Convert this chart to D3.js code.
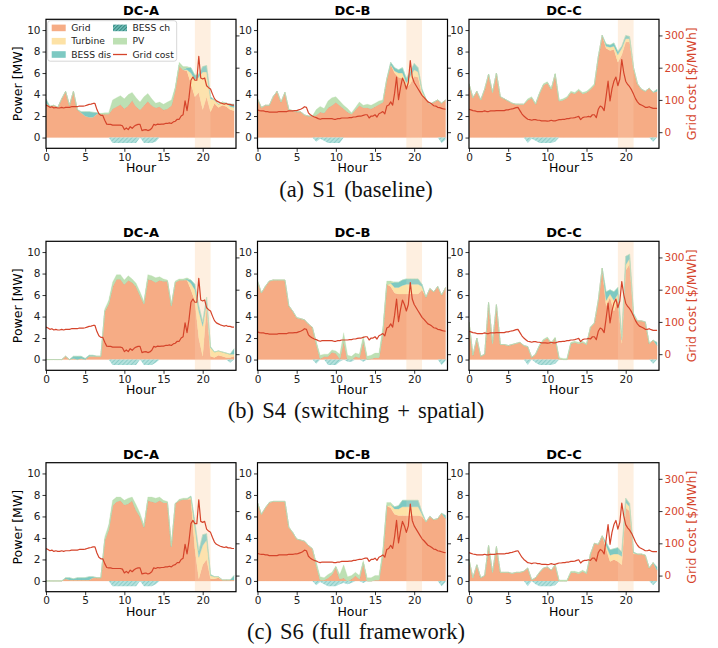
<!DOCTYPE html>
<html><head><meta charset="utf-8">
<script src="https://cdn.jsdelivr.net/npm/d3@7"></script>
<style>body{margin:0;background:#fff}svg{display:block}</style>
</head><body><svg id="c" width="718" height="648"></svg>
<script>
// ---------- DATA ----------
const hours = [0,0.5,1,1.5,2,2.5,3,3.5,4,4.5,5,5.5,6,6.5,7,7.5,8,8.5,9,9.5,10,10.5,11,11.5,12,12.5,13,13.5,14,14.5,15,15.5,16,16.5,17,17.5,18,18.5,19,19.5,20,20.5,21,21.5,22,22.5,23,23.5,24];
const costHours = [0,0.25,0.5,0.75,1,1.25,1.5,1.75,2,2.25,2.5,2.75,3,3.25,3.5,3.75,4,4.25,4.5,4.75,5,5.25,5.5,5.75,6,6.25,6.5,6.75,7,7.25,7.5,7.75,8,8.25,8.5,8.75,9,9.25,9.5,9.75,10,10.25,10.5,10.75,11,11.25,11.5,11.75,12,12.25,12.5,12.75,13,13.25,13.5,13.75,14,14.25,14.5,14.75,15,15.25,15.5,15.75,16,16.25,16.5,16.75,17,17.25,17.5,17.75,18,18.25,18.5,18.75,19,19.25,19.5,19.75,20,20.25,20.5,20.75,21,21.25,21.5,21.75,22,22.25,22.5,22.75,23,23.25,23.5,23.75,24];

const dcNames = ["DC-A","DC-B","DC-C"];
const captions = ["(a) S1 (baseline)","(b) S4 (switching + spatial)","(c) S6 (full framework)"];
const seriesNames = ["Grid","Turbine","BESS dis","BESS ch","PV","Grid cost"];
const xTicks = [0,5,10,15,20];
const yTicks = [0,2,4,6,8,10];
const costTicks = [0,100,200,300];
const peakWindow = [19,21];

// Grid cost [$/MWh], quarter-hourly
const costA = [84,81,77,79,75,77,75,75,77,75,77,77,77,79,79,79,
79,81,81,81,82,84,86,87,89,89,70,57,52,52,37,25,
24,24,22,22,22,22,22,20,8,13,8,17,12,18,22,24,
24,5,7,8,5,7,12,24,22,25,24,25,25,27,27,29,
27,32,34,40,40,50,54,97,67,107,161,171,161,161,235,168,
165,168,144,138,134,118,104,97,94,91,89,87,89,86,86,84,
84];
const costB = [69,67,66,66,64,64,62,62,62,62,62,64,64,64,64,64,
66,66,66,67,67,69,71,74,79,77,60,54,50,47,45,42,
40,42,42,42,42,42,42,40,40,42,42,44,44,44,44,45,
45,47,47,49,50,50,52,54,54,44,50,50,54,47,57,60,
64,57,81,84,94,84,121,171,101,138,168,154,134,154,222,171,
154,144,134,124,114,108,101,94,91,87,82,81,77,76,74,72,
71];
const costC = [71,69,67,66,64,64,64,64,66,64,64,66,66,66,67,67,
67,67,67,69,69,71,72,74,76,77,67,57,50,45,40,39,
37,39,39,37,37,35,35,35,34,35,37,35,35,37,39,39,
40,40,42,42,44,44,45,47,49,39,45,47,47,49,47,54,
54,45,71,81,77,67,111,158,97,134,158,171,144,165,225,185,
158,148,141,131,118,104,94,87,84,81,77,77,79,76,74,74,
74];

// Power [MW], half-hourly. S1
const gridS1A = [3.2,2.9,3.0,2.8,3.6,4.3,3.0,4.3, 2.6,2.3,2.0,1.9,1.9,2.2,2.2,2.2, 2.2,2.7,2.9,3.1,2.7,3.0,3.5,2.9, 2.6,3.0,3.4,3.0,2.8,2.9,2.6,2.7, 3.0,4.5,6.7,6.3,6.2,5.0,3.8,4.2, 2.6,3.8,2.4,3.2,2.8,3.0,2.9,2.6, 2.5];
const turbS1A = [0,0,0,0,0,0,0,0, 0,0,0,0,0,0,0,0, 0,0,0,0,0,0,0,0, 0,0,0,0,0,0,0,0, 0,0,0,0,0.1,1.0,1.6,1.4, 3.5,2.3,1.2,0.3,0.3,0.3,0.3,0.3, 0.3];
const disS1A  = [0.4,0,0,0,0,0,0,0, 0,0.1,0.4,0.5,0.45,0.1,0,0, 0,0,0,0,0,0,0,0, 0,0,0,0,0,0,0,0, 0,0,0,0,0.2,0.5,0.4,0.3, 0.5,0.6,0.2,0,0,0,0,0.2, 0.3];
const pvS1A   = [0,0,0,0,0,0,0,0, 0,0,0,0,0,0,0.05,0.1, 0.1,0.8,0.8,0.8,0.9,1.0,0.7,0.8, 0.7,0.8,0.7,0.6,0.4,0.4,0.5,0.6, 0.5,0.2,0.3,0.3,0.1,0,0,0, 0,0,0,0,0,0,0,0, 0];
const chS1A   = [0,0,0,0,0,0,0,0, 0,0,0,0,0,0,0,0, 0,-0.5,-0.5,-0.5,-0.5,-0.5,-0.5,-0.5, 0,-0.5,-0.5,-0.5,-0.4,0,0,0, 0,0,0,0,0,0,0,0, 0,0,0,0,0,0,0,0, 0];

const gridS1B = [3.6,2.8,3.0,3.0,3.8,4.3,3.3,4.2, 2.6,2.5,2.4,2.4,2.1,2.0,2.0,2.1, 2.4,2.3,2.8,3.0,3.3,3.0,2.7,2.4, 2.2,2.6,3.0,2.8,2.8,2.7,2.9,3.1, 3.3,5.4,6.8,6.0,5.6,5.5,4.6,5.0, 5.7,5.6,4.0,3.5,3.1,3.3,3.5,3.2, 3.5];
const turbS1B = [0,0,0,0,0,0,0,0, 0,0,0,0,0,0,0,0, 0,0,0,0,0,0,0,0, 0,0,0,0,0,0,0,0, 0,0,0,0.2,0.4,0.5,0.5,0.7, 0.6,0.5,0.3,0.1,0,0,0,0, 0];
const disS1B  = [0,0,0,0,0,0,0,0, 0,0,0,0,0,0,0,0, 0,0,0,0,0,0,0,0, 0,0,0,0,0,0,0,0, 0,0,0.2,0.3,0.3,0.5,0.4,0.5, 0.6,0.4,0.2,0,0,0,0,0, 0];
const pvS1B   = [0,0,0,0,0,0,0,0, 0,0,0,0,0,0,0,0.5, 0.5,0.4,0.6,0.7,0.5,0.4,0.3,0.3, 0.1,0.2,0.3,0.2,0.3,0.3,0.3,0.3, 0.2,0.1,0,0,0,0,0,0, 0,0,0,0,0,0,0,0, 0];
const chS1B   = [0,0,0,0,0,0,0,0, 0,0,0,0,0,0,0,-0.4, -0.1,-0.3,-0.5,-0.5,-0.5,-0.5,0,0, 0,0,0,0,0,0,0,0, 0,0,0,0,0,0,0,0, 0,0,0,0,0,0,0,-0.5, -0.2];

const gridS1C = [5.0,3.7,4.3,3.5,4.5,5.9,4.2,6.0, 3.8,3.6,3.4,3.2,3.1,3.1,3.1,3.5, 3.7,3.1,4.1,4.9,5.1,4.5,5.9,3.4, 3.5,3.7,4.2,4.1,4.4,4.1,4.2,4.5, 4.9,7.5,9.5,8.3,8.1,8.2,7.0,7.7, 8.9,8.9,6.4,5.0,4.5,4.3,4.6,4.2, 4.3];
const turbS1C = [0,0,0,0,0,0,0,0, 0,0,0,0,0,0,0,0, 0,0,0,0,0,0,0,0, 0,0,0,0,0,0,0,0, 0,0,0,0.2,0.3,0.3,0.7,0.6, 0.3,0.3,0.1,0,0,0,0,0, 0];
const disS1C  = [0,0,0,0,0,0,0,0, 0,0,0,0,0,0,0,0, 0,0,0,0,0,0,0,0, 0,0,0,0,0,0,0,0, 0,0,0,0.2,0.2,0.3,0.3,0.2, 0.3,0.2,0,0,0,0,0,0, 0.2];
const pvS1C   = [0,0,0,0,0,0,0,0, 0,0,0,0,0,0,0,0.1, 0.1,0.1,0.1,0.1,0.1,0.1,0.1,0.1, 0.1,0.1,0.1,0.1,0.1,0.1,0.1,0.1, 0.1,0,0,0,0,0,0,0, 0,0,0,0,0,0,0,0, 0];
const chS1C   = [0,0,0,0,0,0,0,0, 0,0,0,0,0,0,0,-0.5, -0.1,-0.3,-0.5,-0.5,-0.5,-0.5,-0.4,0, 0,0,0,0,0,0,0,0, 0,0,0,0,0,0,0,0, 0,0,0,0,0,0,0,-0.4, 0];

// S4
const gridS4A = [0,0,0,0,0,0.3,0,0.1, 0,0.1,0,0.3,0.3,0.3,0.3,4.5, 5.2,6.8,7.5,7.5,7.0,7.4,7.2,6.8, 6.0,5.2,7.5,7.4,7.2,7.4,7.3,7.3, 5.0,7.2,7.4,7.4,7.4,6.5,5.5,2.0, 0.3,5.0,0.3,0.2,0.4,0.3,0.2,0.2, 0.3];
const turbS4A = [0,0,0,0,0,0,0,0, 0,0,0,0,0,0,0,0, 0,0,0,0,0,0,0,0, 0,0,0,0,0,0,0,0, 0,0,0,0,0,0.6,1.0,2.5, 2.8,0.3,0.8,0.5,0.4,0.4,0.4,0.3, 0.2];
const disS4A  = [0,0,0,0,0,0,0,0.2, 0.3,0.2,0.1,0.1,0.1,0,0,0, 0,0,0,0,0,0,0,0, 0,0,0,0,0,0,0,0, 0,0,0,0,0.1,0.3,0.5,0.5, 0.4,0.5,0.1,0,0,0,0,0, 0.5];
const pvS4A   = [0,0,0,0,0,0,0,0, 0,0,0,0,0,0,0,0.2, 0.3,0.4,0.4,0.4,0.4,0.4,0.3,0.3, 0.3,0.2,0.4,0.4,0.4,0.3,0.2,0.1, 0.1,0.1,0.1,0.1,0.1,0,0,0, 0,0,0,0,0,0,0,0, 0];
const chS4A   = [0,0,0,0,0,0,0,0, 0,0,0,0,0,0,0,0, 0,-0.5,-0.5,-0.5,-0.5,-0.5,-0.5,-0.5, 0,-0.5,-0.5,-0.5,-0.3,0,0,0, 0,0,0,0,0,0,0,0, 0,0,0,0,0,0,0,-0.3, 0];

const gridS4B = [7.3,6.2,6.8,7.3,7.4,7.4,7.4,7.4, 5.0,4.5,3.9,3.8,3.7,3.3,3.0,1.5, 0.1,0.3,0.3,0.7,0.6,0.1,1.8,0, 0,0.3,0.2,1.8,0,0.1,0.2,0.2, 2.5,7.0,6.8,6.2,6.1,6.1,6.1,6.1, 6.1,6.1,6.5,5.8,6.6,6.3,6.8,6.0, 6.7];
const turbS4B = [0,0,0,0,0,0,0,0, 0,0,0,0,0,0,0,0, 0,0,0,0,0,0,0,0, 0,0,0,0,0,0,0,0, 0,0,0.3,0.5,0.6,0.8,0.9,0.9, 0.9,0.9,0.3,0,0,0,0,0, 0];
const disS4B  = [0,0,0,0,0,0,0,0, 0,0,0,0,0,0,0,0, 0,0,0,0,0,0,0,0, 0,0,0,0,0,0,0,0, 0,0,0,0.5,0.5,0.5,0.5,0.5, 0.5,0.5,0.2,0,0,0,0,0, 0];
const pvS4B   = [0,0,0,0,0,0,0,0, 0,0,0,0,0,0,0,0.2, 0.3,0.2,0.2,0.2,0.2,0.4,0.7,0.4, 0.3,0.3,0.3,0.4,0.3,0.3,0.4,0.4, 0.5,0.3,0.2,0,0,0,0,0, 0,0,0,0,0,0,0,0, 0];
const chS4B   = [0,0,0,0,0,0,0,0, 0,0,0,0,0,0,0,-0.4, 0,0,-0.5,-0.5,-0.5,-0.2,0,-0.2, -0.2,0,0,-0.2,0,0,0,0, 0,0,0,0,0,0,0,0, 0,0,0,0,0,0,0,-0.5, -0.1];

const gridS4C = [3.5,0.4,2.0,0.3,0.5,5.3,1.5,5.1, 1.4,1.4,1.3,1.4,1.5,1.6,1.3,1.2, 0.2,0.5,1.3,1.8,2.0,1.5,2.0,0.1, 0,0,1.5,1.6,1.5,1.6,1.4,3.0, 3.4,5.5,8.5,5.0,5.8,4.5,5.6,1.5, 8.3,8.9,4.0,3.6,3.6,3.5,1.5,1.8, 1.3];
const turbS4C = [0,0,0,0,0,0,0,0, 0,0,0,0,0,0,0,0, 0,0,0,0,0,0,0,0, 0,0,0,0,0,0,0,0, 0,0,0,0.5,0.3,1.0,0.5,0.3, 0.5,0.5,0.2,0,0,0,0,0, 0];
const disS4C  = [0,0,0,0,0,0,0,0, 0,0,0,0,0,0,0,0, 0,0,0,0,0,0,0,0, 0,0,0,0,0,0,0,0, 0,0,0,0.8,0.4,0.8,0.6,0.3, 0.8,0.4,0.1,0,0,0,0,0, 0.3];
const pvS4C   = [0,0,0,0,0,0,0,0, 0,0,0,0,0,0,0,0, 0,0,0.1,0.1,0.1,0.1,0.1,0.1, 0.1,0.1,0.1,0.1,0.1,0.1,0.1,0, 0,0,0,0,0,0,0,0, 0,0,0,0,0,0,0,0, 0];
const chS4C   = [0,0,0,0,0,0,0,0, 0,0,0,0,0,0,0,-0.5, 0,-0.3,-0.5,-0.5,-0.5,-0.5,-0.4,0, 0,0,0,0,0,0,0,0, 0,0,0,0,0,0,0,0, 0,0,0,0,0,0,0,-0.4, 0];

// S6
const gridS6A = [0,0,0,0,0,0.2,0.1,0.1, 0.1,0.1,0.1,0.1,0.3,0.3,0.3,3.8, 4.8,7.0,7.4,7.5,7.1,7.2,7.5,6.6, 6.0,5.0,7.5,7.4,7.3,7.5,7.3,7.3, 3.2,7.2,7.5,7.6,7.6,7.6,3.0,0.2, 1.5,2.0,0.2,0.2,0.3,0.1,0.1,0.1, 0.1];
const turbS6A = [0,0,0,0,0,0,0,0, 0,0,0,0,0,0,0,0, 0,0,0,0,0,0,0,0, 0,0,0,0,0,0,0,0, 0,0,0,0,0,0.2,2.0,2.0, 1.8,1.8,0.3,0.2,0.1,0,0,0, 0];
const disS6A  = [0,0,0,0,0,0.1,0.2,0.1, 0.2,0.2,0.2,0.3,0.1,0,0,0, 0,0,0,0,0,0,0,0, 0,0,0,0,0,0,0,0, 0,0,0,0,0,0.1,0.5,0.6, 1.0,0.6,0.1,0,0,0,0,0, 0.4];
const pvS6A   = [0,0,0,0,0,0,0,0, 0,0,0,0,0,0,0,0.3, 0.4,0.5,0.4,0.3,0.4,0.5,0.3,0.5, 0.3,0.2,0.3,0.4,0.4,0.3,0.2,0.1, 0.1,0,0.1,0.1,0.1,0,0,0, 0,0,0,0,0,0,0,0, 0];
const chS6A   = [0,0,0,0,0,0,0,0, 0,0,0,0,0,0,0,0, 0,-0.5,-0.5,-0.5,-0.5,-0.5,-0.5,-0.5, 0,-0.5,-0.5,-0.5,-0.3,0,0,0, 0,0,0,0,0,0,0,0, 0,0,0,0,0,0,0,0, 0];

const gridS6B = [7.3,6.2,6.8,7.3,7.4,7.4,7.4,7.4, 5.0,4.5,3.9,3.8,3.7,3.3,3.0,1.5, 0.1,0.1,0.3,0.6,1.3,0.2,0.3,0, 0.2,0.5,0.2,1.7,0,0,0.1,0.1, 2.5,7.0,6.8,6.2,6.1,6.1,6.1,6.1, 6.1,6.1,6.0,5.5,6.0,5.7,5.8,6.3, 5.8];
const turbS6B = [0,0,0,0,0,0,0,0, 0,0,0,0,0,0,0,0, 0,0,0,0,0,0,0,0, 0,0,0,0,0,0,0,0, 0,0,0.3,0.5,0.6,0.8,0.8,0.8, 0.8,0.8,0.2,0,0,0,0,0, 0];
const disS6B  = [0,0,0,0,0,0,0,0, 0,0,0,0,0,0,0,0, 0,0,0,0,0,0,0,0, 0,0,0,0,0,0,0,0, 0,0,0,0.2,0.3,0.6,0.6,0.6, 0.6,0.6,0.2,0,0,0,0,0, 0.3];
const pvS6B   = [0,0,0,0,0,0,0,0, 0,0,0,0,0,0,0,0.3, 0.3,0.2,0.3,0.2,0.1,0.4,1.2,0.4, 0.3,0.3,0.3,0.2,0.3,0.3,0.4,0.4, 0.4,0.3,0.2,0,0,0,0,0, 0,0,0,0,0,0,0,0, 0];
const chS6B   = [0,0,0,0,0,0,0,0, 0,0,0,0,0,0,0,-0.4, -0.1,-0.3,-0.5,-0.5,-0.5,-0.3,-0.2,-0.3, -0.2,0,0,-0.2,0,0,0,0, 0,0,0,0,0,0,0,0, 0,0,0,0,0,0,0,-0.5, -0.1];

const gridS6C = [2.0,0.3,1.5,0.3,0.5,3.3,0.8,3.2, 0.8,0.8,0.8,0.7,0.8,0.8,0.9,1.2, 0.1,0.3,0.8,1.2,1.3,1.0,1.5,0, 0,0,0.8,0.8,0.7,0.9,0.7,2.5, 3.5,3.4,4.2,3.0,1.8,2.0,1.8,1.5, 6.8,6.5,2.5,2.5,2.5,2.4,1.2,1.7, 1.0];
const turbS6C = [0,0,0,0,0,0,0,0, 0,0,0,0,0,0,0,0, 0,0,0,0,0,0,0,0, 0,0,0,0,0,0,0,0, 0,0,0,0.3,0.6,0.5,0.7,0.8, 0.5,0.4,0.1,0,0,0,0,0, 0];
const disS6C  = [0,0,0,0,0,0,0,0, 0,0,0,0,0,0,0,0, 0,0,0,0,0,0,0,0, 0,0,0,0,0,0,0,0, 0,0,0,0.3,0.5,0.5,0.6,0.4, 0.4,0.3,0.1,0,0,0,0,0, 0.3];
const pvS6C   = [0,0,0,0,0,0,0,0, 0,0,0,0,0,0,0,0, 0,0,0,0,0,0,0,0.1, 0.1,0.1,0.1,0.1,0.1,0.1,0.1,0, 0,0,0,0,0,0,0,0, 0,0,0,0,0,0,0,0, 0];
const chS6C   = [0,0,0,0,0,0,0,0, 0,0,0,0,0,0,0,-0.5, 0,-0.3,-0.5,-0.5,-0.5,-0.5,-0.4,0, 0,0,0,0,0,0,0,0, 0,0,0,0,0,0,0,0, 0,0,0,0,0,0,0,-0.4, 0];

// ---------- LAYOUT / STYLE ----------
const colors = {grid:"#F6AC85", turb:"#FDE2A6", dis:"#7DC9C2", pv:"#BDE0B3", cost:"#D5442B", band:"#FEF2E4"};
const colL = [46, 257.5, 469];
const rowT = [19.3, 241.3, 462.7];
const pw = 190, ph = 129;
const FONT = "'DejaVu Sans', sans-serif";

const panels = [
  [[gridS1A,turbS1A,disS1A,pvS1A,chS1A,costA],[gridS1B,turbS1B,disS1B,pvS1B,chS1B,costB],[gridS1C,turbS1C,disS1C,pvS1C,chS1C,costC]],
  [[gridS4A,turbS4A,disS4A,pvS4A,chS4A,costA],[gridS4B,turbS4B,disS4B,pvS4B,chS4B,costB],[gridS4C,turbS4C,disS4C,pvS4C,chS4C,costC]],
  [[gridS6A,turbS6A,disS6A,pvS6A,chS6A,costA],[gridS6B,turbS6B,disS6B,pvS6B,chS6B,costB],[gridS6C,turbS6C,disS6C,pvS6C,chS6C,costC]]
];

const svg = d3.select("#c");
const defs = svg.append("defs");
const pat = defs.append("pattern").attr("id","hatch").attr("patternUnits","userSpaceOnUse")
  .attr("width",3).attr("height",3).attr("patternTransform","rotate(45)");
pat.append("rect").attr("width",3).attr("height",3).attr("fill","#B4E1DD");
pat.append("line").attr("x1",0.5).attr("y1",0).attr("x2",0.5).attr("y2",3).attr("stroke","#83C8C2").attr("stroke-width",0.8);

const x = d3.scaleLinear().domain([0,24.25]).range([0,pw]);
const y = d3.scaleLinear().domain([-1,11]).range([ph,0]);
const yc = d3.scaleLinear().domain([-50,350]).range([ph,0]);

const stack = d3.stack().keys(["grid","turb","dis","pv"]);
const area = d3.area().x(d=>x(d.data.h)).y0(d=>y(d[0])).y1(d=>y(d[1]));
const chArea = d3.area().x(d=>x(d.h)).y0(y(0)).y1(d=>y(d.v));
const costLine = d3.line().x(d=>x(d.h)).y(d=>yc(d.v));
const keyColor = {grid:colors.grid, turb:colors.turb, dis:colors.dis, pv:colors.pv};

function styleAxis(g, color){
  g.select(".domain").remove();
  g.selectAll(".tick line").attr("stroke","#000").attr("stroke-width",0.8);
  g.selectAll(".tick text").attr("font-family",FONT).attr("font-size",10.5).attr("fill",color||"#222");
}

for (let r=0;r<3;r++){
  for (let c=0;c<3;c++){
    const [gr,tu,di,pv,ch,cost] = panels[r][c];
    const g = svg.append("g").attr("transform",`translate(${colL[c]},${rowT[r]})`);
    const cid = `clip${r}${c}`;
    defs.append("clipPath").attr("id",cid).append("rect").attr("width",pw).attr("height",ph);
    const pg = g.append("g").attr("clip-path",`url(#${cid})`);

    pg.append("rect").attr("x",x(peakWindow[0])).attr("width",x(peakWindow[1])-x(peakWindow[0])).attr("y",0).attr("height",ph)
      .attr("fill",colors.band);
    const rows = hours.map((h,i)=>({h, grid:gr[i], turb:tu[i], dis:di[i], pv:pv[i]}));
    const st = stack(rows);
    pg.selectAll("path.stk").data(st).join("path").attr("class","stk")
      .attr("d",area).attr("fill",d=>keyColor[d.key]).attr("stroke",d=>keyColor[d.key]).attr("stroke-width",0.3);
    pg.append("path").datum(hours.map((h,i)=>({h, v:ch[i]}))).attr("d",chArea)
      .attr("fill","url(#hatch)");
    pg.append("rect").attr("x",x(peakWindow[0])).attr("width",x(peakWindow[1])-x(peakWindow[0])).attr("y",0).attr("height",ph)
      .attr("fill","#FDE6CC").attr("opacity",0.18);
    pg.append("path").datum(costHours.map((h,i)=>({h, v:cost[i]}))).attr("d",costLine)
      .attr("fill","none").attr("stroke",colors.cost).attr("stroke-width",1.2).attr("stroke-linejoin","round");

    // axes
    const ax = g.append("g").attr("transform",`translate(0,${ph})`)
      .call(d3.axisBottom(x).tickValues(xTicks).tickSize(3.5).tickPadding(1.5));
    styleAxis(ax);
    const ay = g.append("g").call(d3.axisLeft(y).tickValues(yTicks).tickSize(3.5).tickPadding(2));
    styleAxis(ay);
    const ar = g.append("g").attr("transform",`translate(${pw},0)`)
      .call(d3.axisRight(yc).tickValues(costTicks).tickSize(3.5).tickPadding(2)
        .tickFormat(c===2 ? d3.format("d") : ()=>""));
    styleAxis(ar, colors.cost);

    g.append("rect").attr("width",pw).attr("height",ph).attr("fill","none").attr("stroke","#000").attr("stroke-width",1.2);

    g.append("text").attr("x",pw/2).attr("y",-4).attr("text-anchor","middle")
      .attr("font-family",FONT).attr("font-weight","bold").attr("font-size",13).text(dcNames[c]);
    g.append("text").attr("x",pw/2).attr("y",ph+24).attr("text-anchor","middle")
      .attr("font-family",FONT).attr("font-size",12.5).text("Hour");
    if (c===0){
      g.append("text").attr("transform",`translate(-24.5,${ph/2}) rotate(-90)`).attr("text-anchor","middle")
        .attr("font-family",FONT).attr("font-size",12.5).text("Power [MW]");
    }
    if (c===2){
      g.append("text").attr("transform",`translate(${pw+33},${ph/2}) rotate(-90)`).attr("text-anchor","middle")
        .attr("dominant-baseline","middle")
        .attr("font-family",FONT).attr("font-size",12.5).attr("fill",colors.cost).text("Grid cost [$/MWh]");
    }

    // legend
    if (r===0 && c===0){
      const lg = g.append("g").attr("transform","translate(1.7,1.4)");
      lg.append("rect").attr("width",129).attr("height",40.5).attr("rx",2.5)
        .attr("fill","#fff").attr("fill-opacity",0.85).attr("stroke","#ccc").attr("stroke-width",0.8);
      const pl = defs.append("pattern").attr("id","hatchL").attr("patternUnits","userSpaceOnUse")
        .attr("width",2.5).attr("height",2.5).attr("patternTransform","rotate(45)");
      pl.append("rect").attr("width",2.5).attr("height",2.5).attr("fill","#6FBDB6");
      pl.append("line").attr("x1",0.5).attr("y1",0).attr("x2",0.5).attr("y2",2.5).attr("stroke","#2F7F79").attr("stroke-width",0.9);
      const items = [
        {n:seriesNames[0], t:"patch", f:colors.grid, cx:0, row:0},
        {n:seriesNames[1], t:"patch", f:colors.turb, cx:0, row:1},
        {n:seriesNames[2], t:"patch", f:colors.dis, cx:0, row:2},
        {n:seriesNames[3], t:"hatch", f:"url(#hatchL)", cx:1, row:0},
        {n:seriesNames[4], t:"patch", f:colors.pv, cx:1, row:1},
        {n:seriesNames[5], t:"line", f:colors.cost, cx:1, row:2}
      ];
      items.forEach(it=>{
        const px = it.cx===0 ? 4 : 65.3;
        const py = 7.2 + it.row*13.3;
        if (it.t==="line"){
          lg.append("line").attr("x1",px).attr("x2",px+14).attr("y1",py).attr("y2",py)
            .attr("stroke",it.f).attr("stroke-width",1.3);
        } else {
          lg.append("rect").attr("x",px).attr("y",py-3.3).attr("width",14).attr("height",6.6).attr("fill",it.f);
        }
        lg.append("text").attr("x",px+19.5).attr("y",py+3.2).attr("font-family",FONT).attr("font-size",9.2)
          .attr("fill","#222").text(it.n);
      });
    }
  }
}

// captions
const capY = [196.5, 417.5, 639];
captions.forEach((t,i)=>{
  svg.append("text").attr("x",356).attr("y",capY[i]).attr("text-anchor","middle")
    .attr("font-family","'Liberation Serif','Times New Roman',serif").attr("font-size",22.5)
    .attr("word-spacing",2.5).attr("fill","#111").text(t);
});
</script>
</body></html>
